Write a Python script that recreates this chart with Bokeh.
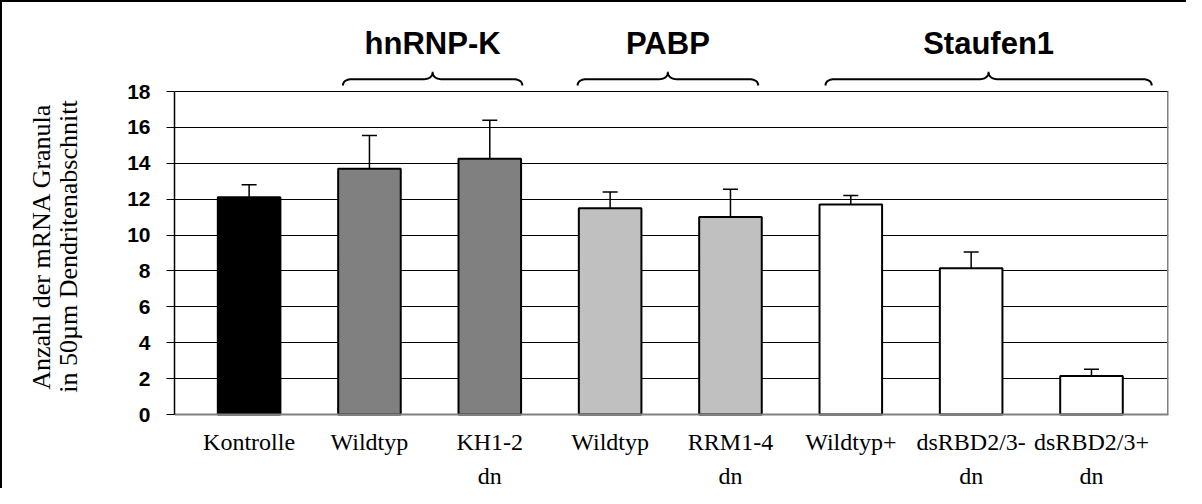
import numpy as np
from bokeh.plotting import figure
from bokeh.models import (Range1d, FixedTicker, LinearAxis, Label, Whisker, ColumnDataSource,
                          TeeHead)
from bokeh.embed import file_html
from bokeh.resources import INLINE

# ---------------- data ----------------
labels_line1 = ["Kontrolle", "Wildtyp", "KH1-2", "Wildtyp", "RRM1-4", "Wildtyp+", "dsRBD2/3-", "dsRBD2/3+"]
labels_line2 = ["", "", "dn", "", "dn", "", "dn", "dn"]
values = [12.1, 13.7, 14.25, 11.5, 11.0, 11.7, 8.15, 2.15]
errors = [0.7, 1.85, 2.15, 0.9, 1.55, 0.5, 0.9, 0.37]
groups = ["Kontrolle", "hnRNP-K", "hnRNP-K", "PABP", "PABP", "Staufen1", "Staufen1", "Staufen1"]
group_titles = ["hnRNP-K", "PABP", "Staufen1"]
y_ticks = [0, 2, 4, 6, 8, 10, 12, 14, 16, 18]
y_title = "Anzahl der mRNA Granula\nin 50µm Dendritenabschnitt"

# ---------------- styles / layout ----------------
group_colors = {"Kontrolle": "#000000", "hnRNP-K": "#808080", "PABP": "#C0C0C0", "Staufen1": "#FFFFFF"}
W, H = 1186, 488
OFF = 2                                    # css border width (shifts canvas)
FL, FR = 182 - 8 - OFF, 1176 - 8 - OFF     # plot area left/right (canvas px)
PT, PB = 99 - 8 - OFF, 422 - 8 - OFF       # y=18 and y=0 (canvas px)
X0, X1 = -0.62, 7.64
Y_LO, Y_HI = 0, 18
XPX = (FR - FL) / (X1 - X0)
YPX = (PB - PT) / (Y_HI - Y_LO)
Y_TOP = Y_HI + PT / YPX                    # frame covers whole canvas height
Y_BOT = Y_LO - (H - PB) / YPX
BAR_W = 0.52
brace_spans = {"hnRNP-K": (0.78, 2.27), "PABP": (2.73, 4.23), "Staufen1": (4.79, 7.5)}
TIP_PX, MID_PX, PEAK_PX, TITLE_PX = 6, 12.3, 19.7, 48.3   # px above the 18-line
SERIF = "Liberation Serif"
SANS = "Liberation Sans"

xs = list(range(len(values)))
src = ColumnDataSource(dict(
    x=xs, top=values, upper=[v + e for v, e in zip(values, errors)],
    color=[group_colors[g] for g in groups],
))

p = figure(width=W, height=H, output_backend="svg", toolbar_location=None,
           x_range=Range1d(X0, X1), y_range=Range1d(Y_BOT, Y_TOP),
           min_border_left=FL, min_border_right=W - FR,
           min_border_top=0, min_border_bottom=0)
p.styles = {"border-top": f"{OFF}px solid black", "border-left": f"{OFF}px solid black"}
p.background_fill_color = "white"
p.border_fill_color = "white"
p.outline_line_color = None

p.xgrid.visible = False
p.ygrid.ticker = FixedTicker(ticks=y_ticks)
p.ygrid.grid_line_color = "#000000"
p.ygrid.grid_line_width = 1

# right border of the plot area
p.segment(x0=[X1], y0=[Y_LO], x1=[X1], y1=[Y_HI], line_color="#808080", line_width=3)

p.vbar(x="x", top="top", bottom=0, width=BAR_W, fill_color="color",
       line_color="black", line_width=2, source=src)

wh = Whisker(base="x", lower="top", upper="upper", source=src,
             line_color="black", line_width=1.5,
             upper_head=TeeHead(size=15, line_color="black", line_width=1.5),
             lower_head=None)
p.add_layout(wh)

# y axis
ya = p.yaxis[0]
ya.bounds = (Y_LO, Y_HI)
ya.ticker = FixedTicker(ticks=y_ticks)
ya.minor_tick_line_color = None
ya.major_tick_in = 0
ya.major_tick_out = 8
ya.major_tick_line_color = "black"
ya.axis_line_color = "black"
ya.axis_line_width = 1.5
ya.major_label_text_font = SANS
ya.major_label_text_font_style = "bold"
ya.major_label_text_font_size = "21px"
ya.major_label_text_color = "black"
ya.major_label_standoff = 16
ya.axis_label = y_title
ya.axis_label_text_font = SERIF
ya.axis_label_text_font_style = "normal"
ya.axis_label_text_font_size = "26px"
ya.axis_label_text_color = "black"
ya.axis_label_text_line_height = 0.95
ya.axis_label_standoff = 41

# x axes (two label lines) fixed at y=0
xa = p.xaxis[0]
xa.fixed_location = 0
xa.ticker = FixedTicker(ticks=xs)
xa.major_label_overrides = {i: t for i, t in zip(xs, labels_line1)}
xa.major_tick_in = 0
xa.major_tick_out = 0
xa.minor_tick_line_color = None
xa.major_tick_line_color = None
xa.axis_line_color = "#808080"
xa.axis_line_width = 2
xa.major_label_standoff = 14
xa.major_label_text_font = SERIF
xa.major_label_text_font_size = "24px"
xa.major_label_text_color = "black"

xa2 = LinearAxis(fixed_location=0, ticker=FixedTicker(ticks=xs),
                 major_label_overrides={i: t for i, t in zip(xs, labels_line2)},
                 axis_line_color=None, major_tick_line_color=None, minor_tick_line_color=None,
                 major_tick_in=0, major_tick_out=0, major_label_standoff=48,
                 major_label_text_font=SERIF, major_label_text_font_size="24px",
                 major_label_text_color="black")
p.add_layout(xa2, "below")


def px_up(px):
    return Y_HI + px / YPX


def quad(p0, c, p1, n=14):
    t = np.linspace(0, 1, n)[:, None]
    return (1 - t) ** 2 * np.array(p0) + 2 * (1 - t) * t * np.array(c) + t ** 2 * np.array(p1)


rx = 10 / XPX
y_tip, y_mid, y_peak = px_up(TIP_PX), px_up(MID_PX), px_up(PEAK_PX)
bx, by = [], []
for name in group_titles:
    a, b = brace_spans[name]
    m = (a + b) / 2
    pts = np.vstack([
        quad((a, y_tip), (a, y_mid), (a + rx, y_mid)),
        quad((m - rx, y_mid), (m, y_mid), (m, y_peak)),
        quad((m, y_peak), (m, y_mid), (m + rx, y_mid)),
        quad((b - rx, y_mid), (b, y_mid), (b, y_tip)),
    ])
    bx.append(list(pts[:, 0]))
    by.append(list(pts[:, 1]))
    p.add_layout(Label(x=m, y=px_up(TITLE_PX), text=name, text_align="center",
                       text_baseline="alphabetic", text_font=SANS, text_font_style="bold",
                       text_font_size="31px", text_color="black"))
p.multi_line(xs=bx, ys=by, line_color="black", line_width=2)

open("out.html", "w").write(file_html(p, INLINE))
